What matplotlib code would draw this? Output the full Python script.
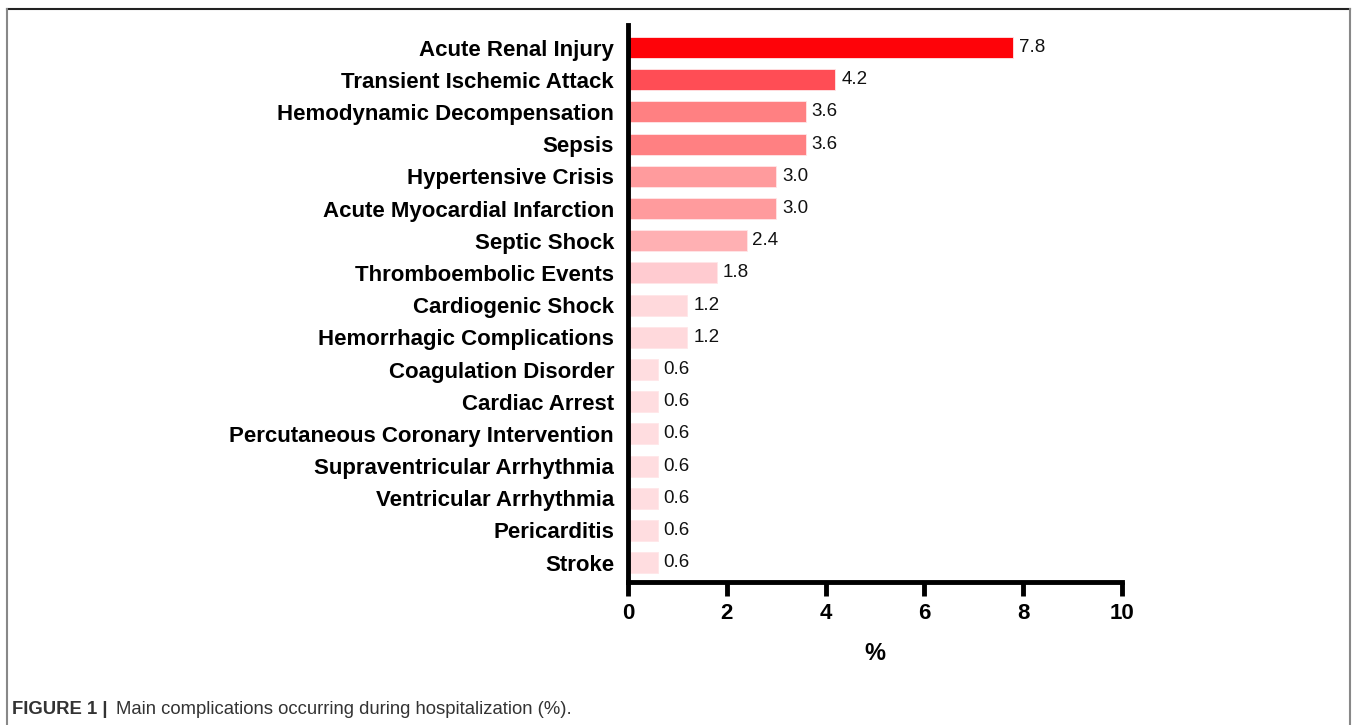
import matplotlib
matplotlib.use('agg')
import matplotlib.pyplot as plt
from matplotlib.lines import Line2D

plt.rcParams['font.family'] = ['Liberation Sans', 'DejaVu Sans']

## data (top to bottom)
complications = ['Acute Renal Injury', 'Transient Ischemic Attack', 'Hemodynamic Decompensation',
                 'Sepsis', 'Hypertensive Crisis', 'Acute Myocardial Infarction', 'Septic Shock',
                 'Thromboembolic Events', 'Cardiogenic Shock', 'Hemorrhagic Complications',
                 'Coagulation Disorder', 'Cardiac Arrest', 'Percutaneous Coronary Intervention',
                 'Supraventricular Arrhythmia', 'Ventricular Arrhythmia', 'Pericarditis', 'Stroke']
percent = [7.8, 4.2, 3.6, 3.6, 3.0, 3.0, 2.4, 1.8, 1.2, 1.2, 0.6, 0.6, 0.6, 0.6, 0.6, 0.6, 0.6]
bar_colors = ['#fe0309', '#ff4d55', '#ff8082', '#ff8082', '#ff9b9d', '#ff9b9d', '#ffb0b3',
              '#ffcbd0', '#ffd9dc', '#ffd9dc', '#ffdde0', '#ffdde0', '#ffdde0', '#ffdde0',
              '#ffdde0', '#ffdde0', '#ffdde0']
xticks = [0, 2, 4, 6, 8, 10]

fig = plt.figure(figsize=(13.57, 7.25), dpi=100)
ax = fig.add_axes([628/1357, 1-582/725, 494/1357, 557/725])

ypos = list(range(len(complications)))
ax.barh(ypos, percent, height=0.65, color=bar_colors, edgecolor='#ffe6e8', linewidth=0.6)
for y, v in zip(ypos, percent):
    ax.text(v + 0.12, y, '{:.1f}'.format(v), va='center', ha='left', fontsize=13.5, color='#111111')

ax.set_ylim(16.6, -0.7)
ax.set_xlim(0, 10)
ax.set_yticks(ypos)
ax.set_yticklabels(complications, fontsize=16, fontweight='bold')
ax.set_xticks(xticks)
ax.set_xticklabels([str(t) for t in xticks], fontsize=16, fontweight='bold')
ax.tick_params(axis='y', length=0, pad=10)
ax.tick_params(axis='x', length=10, width=3.5, pad=5)
ax.set_xlabel('%', fontsize=17, fontweight='bold', labelpad=13)
for s in ['top', 'right']:
    ax.spines[s].set_visible(False)
for s in ['left', 'bottom']:
    ax.spines[s].set_linewidth(3.5)
    ax.spines[s].set_capstyle('projecting')

## page frame
fig.add_artist(Line2D([7/1357, 1350/1357], [1-9/725, 1-9/725], color='#222222', lw=1.5))
fig.add_artist(Line2D([7/1357, 7/1357], [1-9/725, 0], color='#888888', lw=1.5))
fig.add_artist(Line2D([1350/1357, 1350/1357], [1-9/725, 0], color='#888888', lw=1.5))

fig.text(12/1357, 1-710/725, 'FIGURE 1 |', fontsize=13.3, fontweight='bold', color='#333333', va='center')
fig.text(116/1357, 1-710/725, 'Main complications occurring during hospitalization (%).',
         fontsize=13.3, color='#333333', va='center')

fig.savefig('out.png', dpi=100)
